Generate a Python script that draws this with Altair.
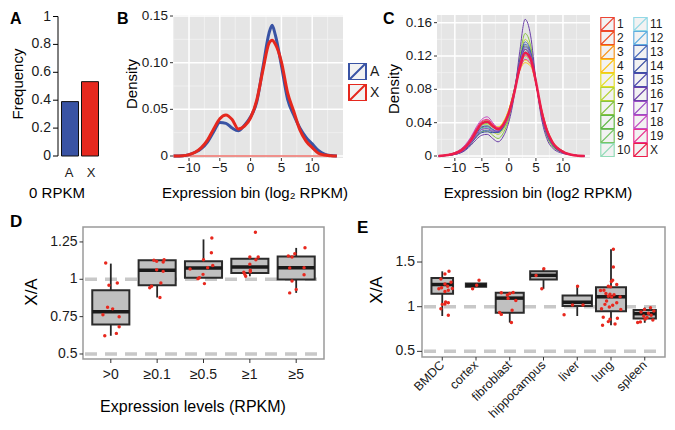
import altair as alt
import pandas as pd

FONT = 'Liberation Sans'
TXT = '#1a1a1a'
TICK = '#333333'
KEY = 'M-1,-1H1V1H-1Z M-1,1L1,-1'
O = 8  # page margin: chart origin sits at page (8, 8)

# ---------------- Panel A ----------------
a_groups = ['A', 'X']
a_frequency = [0.39, 0.533]
a_colors = ['#3953A4', '#E5281E']
a_yticks = [0, 0.2, 0.4, 0.6, 0.8, 1]

# ---------------- Panel B ----------------
b_x = [-12.5, -11, -10, -9, -8, -7, -6, -5, -4, -3, -2, -1, 0, 1, 2, 3, 3.5, 4,
       5, 6, 7, 8, 9, 10, 11, 12, 13, 14]
b_density_A = [0, 0.0003, 0.0015, 0.004, 0.008, 0.015, 0.026, 0.036, 0.035, 0.030,
               0.027, 0.033, 0.042, 0.058, 0.095, 0.132, 0.140, 0.130, 0.097, 0.061,
               0.044, 0.030, 0.020, 0.013, 0.006, 0.002, 0.0005, 0]
b_density_X = [0, 0.0003, 0.0015, 0.004, 0.009, 0.017, 0.029, 0.040, 0.044, 0.039,
               0.029, 0.032, 0.041, 0.060, 0.092, 0.121, 0.124, 0.120, 0.101, 0.068,
               0.048, 0.028, 0.016, 0.009, 0.003, 0.001, 0.0003, 0]
b_xticks = [-10, -5, 0, 5, 10]
b_yticks = [0, 0.05, 0.10, 0.15]
b_minor_x = [-12.5, -7.5, -2.5, 2.5, 7.5, 12.5]
b_minor_y = [0.025, 0.075, 0.125]

# ---------------- Panel C ----------------
c_x = [-13, -10, -8, -7, -6, -5, -4, -3, -2, -1, 0, 1, 2, 3, 4, 5, 6, 7, 8, 10, 12, 14]
c_chroms = ['1', '2', '3', '4', '5', '6', '7', '8', '9', '10',
            '11', '12', '13', '14', '15', '16', '17', '18', '19', 'X']
c_colors = ['#EC4534', '#EF4F23', '#F7941D', '#FBC318', '#E3DF2A', '#B5D334', '#86C240',
            '#62B746', '#78C466', '#93DBB8', '#93D9E6', '#5FAEDF', '#4A6BBA', '#3B4FA3',
            '#4D4AAD', '#6B3FA8', '#9B4DC5', '#C350C2', '#E8338F', '#EC1C4B']
c_density = {
    '1':  [0, 0.003, 0.011, 0.019, 0.030, 0.038, 0.040, 0.035, 0.031, 0.037, 0.052, 0.077, 0.107, 0.125, 0.117, 0.088, 0.054, 0.030, 0.016, 0.005, 0.001, 0],
    '2':  [0, 0.004, 0.013, 0.022, 0.033, 0.041, 0.043, 0.037, 0.031, 0.035, 0.049, 0.075, 0.108, 0.128, 0.119, 0.087, 0.052, 0.028, 0.015, 0.005, 0.001, 0],
    '3':  [0, 0.003, 0.011, 0.019, 0.029, 0.036, 0.037, 0.034, 0.033, 0.040, 0.055, 0.079, 0.105, 0.120, 0.114, 0.088, 0.056, 0.033, 0.018, 0.006, 0.001, 0],
    '4':  [0, 0.004, 0.013, 0.021, 0.031, 0.039, 0.041, 0.037, 0.035, 0.041, 0.056, 0.079, 0.102, 0.112, 0.108, 0.087, 0.058, 0.034, 0.019, 0.006, 0.001, 0],
    '5':  [0, 0.003, 0.012, 0.020, 0.030, 0.037, 0.038, 0.035, 0.034, 0.041, 0.056, 0.080, 0.104, 0.115, 0.110, 0.088, 0.057, 0.033, 0.018, 0.006, 0.001, 0],
    '6':  [0, 0.002, 0.009, 0.016, 0.025, 0.032, 0.033, 0.029, 0.026, 0.032, 0.047, 0.076, 0.114, 0.140, 0.128, 0.090, 0.051, 0.026, 0.013, 0.004, 0.001, 0],
    '7':  [0, 0.002, 0.008, 0.015, 0.023, 0.029, 0.030, 0.025, 0.021, 0.028, 0.045, 0.075, 0.118, 0.147, 0.133, 0.090, 0.049, 0.024, 0.012, 0.004, 0.001, 0],
    '8':  [0, 0.003, 0.010, 0.017, 0.027, 0.034, 0.035, 0.031, 0.028, 0.034, 0.049, 0.076, 0.111, 0.132, 0.122, 0.089, 0.053, 0.028, 0.015, 0.005, 0.001, 0],
    '9':  [0, 0.003, 0.011, 0.019, 0.029, 0.037, 0.039, 0.035, 0.032, 0.038, 0.053, 0.078, 0.106, 0.122, 0.115, 0.088, 0.055, 0.031, 0.017, 0.005, 0.001, 0],
    '10': [0, 0.004, 0.013, 0.021, 0.032, 0.040, 0.042, 0.037, 0.033, 0.039, 0.053, 0.077, 0.104, 0.118, 0.113, 0.088, 0.056, 0.032, 0.018, 0.006, 0.001, 0],
    '11': [0, 0.003, 0.011, 0.018, 0.028, 0.036, 0.037, 0.033, 0.031, 0.037, 0.052, 0.078, 0.108, 0.126, 0.118, 0.088, 0.054, 0.030, 0.016, 0.005, 0.001, 0],
    '12': [0, 0.003, 0.010, 0.017, 0.026, 0.033, 0.034, 0.031, 0.030, 0.036, 0.051, 0.078, 0.110, 0.130, 0.121, 0.088, 0.052, 0.028, 0.015, 0.005, 0.001, 0],
    '13': [0, 0.002, 0.009, 0.016, 0.024, 0.030, 0.031, 0.029, 0.028, 0.035, 0.050, 0.077, 0.113, 0.137, 0.126, 0.089, 0.051, 0.026, 0.014, 0.004, 0.001, 0],
    '14': [0, 0.002, 0.008, 0.015, 0.023, 0.028, 0.029, 0.028, 0.029, 0.037, 0.053, 0.080, 0.114, 0.134, 0.124, 0.089, 0.052, 0.027, 0.014, 0.004, 0.001, 0],
    '15': [0, 0.003, 0.010, 0.018, 0.027, 0.035, 0.036, 0.032, 0.029, 0.035, 0.050, 0.077, 0.109, 0.128, 0.119, 0.088, 0.053, 0.029, 0.015, 0.005, 0.001, 0],
    '16': [0, 0.002, 0.007, 0.013, 0.020, 0.025, 0.026, 0.021, 0.017, 0.024, 0.041, 0.073, 0.125, 0.164, 0.145, 0.091, 0.046, 0.021, 0.010, 0.003, 0.001, 0],
    '17': [0, 0.002, 0.009, 0.016, 0.025, 0.032, 0.033, 0.030, 0.030, 0.037, 0.052, 0.078, 0.111, 0.131, 0.122, 0.088, 0.052, 0.028, 0.015, 0.005, 0.001, 0],
    '18': [0, 0.004, 0.014, 0.023, 0.035, 0.044, 0.047, 0.040, 0.033, 0.036, 0.049, 0.074, 0.104, 0.121, 0.114, 0.087, 0.055, 0.031, 0.017, 0.005, 0.001, 0],
    '19': [0, 0.004, 0.013, 0.022, 0.033, 0.042, 0.044, 0.039, 0.034, 0.039, 0.053, 0.077, 0.103, 0.116, 0.111, 0.087, 0.057, 0.033, 0.018, 0.006, 0.001, 0],
    'X':  [0, 0.003, 0.011, 0.019, 0.030, 0.039, 0.041, 0.036, 0.032, 0.038, 0.052, 0.076, 0.106, 0.124, 0.117, 0.089, 0.055, 0.031, 0.017, 0.005, 0.001, 0],
}
c_xticks = [-10, -5, 0, 5, 10]
c_yticks = [0, 0.04, 0.08, 0.12, 0.16]
c_minor_x = [-12.5, -7.5, -2.5, 2.5, 7.5, 12.5]
c_minor_y = [0.02, 0.06, 0.10, 0.14]

# ---------------- Panel D ----------------
d_levels = ['>0', '≥0.1', '≥0.5', '≥1', '≥5']
d_lower = [0.622, 0.878, 1.011, 1.02, 0.909]
d_q1 = [0.698, 0.96, 1.011, 1.042, 0.998]
d_median = [0.782, 1.06, 1.075, 1.082, 1.078]
d_q3 = [0.927, 1.127, 1.12, 1.138, 1.153]
d_upper = [1.105, 1.127, 1.267, 1.14, 1.21]
d_yticks = [0.5, 0.75, 1, 1.25]
d_point_values = [
    [1.109, 0.96, 0.975, 0.813, 0.802, 0.762, 0.749, 0.682, 0.638, 0.622],
    [1.127, 1.12, 1.116, 1.131, 1.064, 1.053, 0.975, 0.953, 0.944, 0.878],
    [1.276, 1.178, 1.131, 1.093, 1.078, 1.069, 1.033, 1.004, 1.011, 0.971],
    [1.315, 1.149, 1.149, 1.131, 1.1, 1.06, 1.047, 1.033, 1.02, 1.051],
    [1.211, 1.156, 1.149, 1.171, 1.076, 1.078, 1.031, 0.989, 0.931, 0.909],
]
d_point_jitter = [
    [-0.11, -0.04, 0.14, -0.07, 0.04, -0.17, 0.18, 0.18, 0.12, -0.13],
    [-0.07, -0.01, 0.13, 0.15, -0.01, 0.13, 0.08, -0.12, -0.16, 0.06],
    [0.18, 0.17, 0.0, 0.2, 0.09, -0.29, -0.01, -0.12, -0.09, 0.02],
    [0.12, 0.0, 0.18, 0.13, 0.0, 0.01, -0.13, -0.11, -0.09, 0.01],
    [0.19, -0.17, -0.09, -0.03, -0.14, 0.17, 0.17, -0.09, 0.0, -0.14],
]

# ---------------- Panel E ----------------
e_tissues = ['BMDC', 'cortex', 'fibroblast', 'hippocampus', 'liver', 'lung', 'spleen']
e_lower = [0.896, 1.222, 0.822, 1.2, 0.896, 0.792, 0.82]
e_q1 = [1.144, 1.222, 0.933, 1.304, 1.007, 0.948, 0.867]
e_median = [1.248, 1.24, 1.096, 1.351, 1.05, 1.111, 0.922]
e_q3 = [1.322, 1.259, 1.155, 1.396, 1.126, 1.218, 0.962]
e_upper = [1.396, 1.259, 1.155, 1.426, 1.237, 1.644, 0.99]
e_box_width = [0.64, 0.6, 0.83, 0.79, 0.87, 0.89, 0.66]
e_yticks = [0.5, 1, 1.5]
e_point_values = [
    [1.396, 1.367, 1.311, 1.273, 1.255, 1.229, 1.211, 1.204, 1.2, 1.185, 1.17, 1.052, 1.044, 1.026, 1.03, 0.978, 0.905],
    [1.296, 1.24, 1.2],
    [1.155, 1.148, 1.16, 1.13, 1.093, 1.07, 0.96, 0.936, 0.914, 0.822],
    [1.426, 1.35, 1.2],
    [1.229, 1.018, 1.018, 0.911],
    [1.644, 1.444, 1.296, 1.281, 1.229, 1.222, 1.185, 1.181, 1.248, 1.148, 1.14, 1.133, 1.118, 1.11,
     1.11, 1.063, 1.044, 1.026, 1.015, 0.996, 0.978, 0.97, 0.881, 0.859, 0.87, 0.833, 0.792, 0.807],
    [0.989, 0.97, 0.952, 0.941, 0.926, 0.904, 0.896, 0.878, 0.852, 0.859, 0.83, 0.822],
]
e_point_jitter = [
    [0.2, 0.08, -0.04, 0.26, 0.08, 0.16, -0.02, 0.3, -0.1, 0.18, 0.08, 0.1, 0.18, 0.0, 0.08, -0.04, 0.18],
    [0.09, 0.02, -0.1],
    [-0.25, 0.0, 0.1, -0.07, -0.05, 0.18, 0.07, -0.3, -0.25, 0.05],
    [0.01, -0.22, -0.05],
    [0.01, -0.14, 0.17, -0.39],
    [0.07, 0.07, 0.05, 0.01, -0.08, -0.01, -0.21, -0.31, 0.17, -0.15, -0.03, 0.09, -0.08, 0.02,
     0.27, -0.13, 0.17, -0.18, 0.05, -0.05, -0.28, 0.29, -0.23, -0.03, 0.19, -0.08, -0.25, 0.12],
    [0.17, -0.01, 0.27, -0.11, 0.11, 0.19, -0.03, 0.07, 0.24, 0.01, -0.13, -0.21],
]

ref_lines = [0.5, 1.0]

for k, v in c_density.items():
    assert len(v) == len(c_x), k

# ---------------- panel boxes (page pixels) & data limits ----------------
BOX_A = dict(xl=58, xr=102, yb=156, yt=16.5)
BOX_B = dict(xl=173, xr=343, yb=158, yt=15)
BOX_C = dict(xl=437, xr=590, yb=158, yt=15)
BOX_D = dict(xl=83, xr=324, yb=359, yt=227)
BOX_E = dict(xl=422, xr=665, yb=357, yt=227)
LIM_A_Y = [0, 1]
LIM_B_X, LIM_B_Y = [-12.6, 15], [-0.00214, 0.1511]
LIM_C_X, LIM_C_Y = [-13.3, 15], [-0.0024, 0.1692]
LIM_D_X, LIM_D_Y = [0.4, len(d_levels) + 0.6], [0.4665, 1.35]
LIM_E_X, LIM_E_Y = [0.4, len(e_tissues) + 0.6], [0.437, 1.892]


# ---------------- helpers ----------------
def V(p):
    return alt.value(p - O)


def XS(lim, box):
    return alt.Scale(domain=lim, range=[box['xl'] - O, box['xr'] - O], nice=False, zero=False)


def YS(lim, box):
    return alt.Scale(domain=lim, range=[box['yb'] - O, box['yt'] - O], nice=False, zero=False)


def xq(field, lim, box):
    return alt.X(field + ':Q', scale=XS(lim, box), axis=None)


def yq(field, lim, box):
    return alt.Y(field + ':Q', scale=YS(lim, box), axis=None)


def txt(s, x, y, size=15, angle=0, bold=False, align='center', baseline='middle'):
    return alt.Chart(pd.DataFrame({'t': [s]})).mark_text(
        font=FONT, fontSize=size, angle=angle, fontWeight='bold' if bold else 'normal',
        align=align, baseline=baseline, color='black'
    ).encode(text='t:N', x=V(x), y=V(y))


def fmt(v):
    s = ('%g' % v)
    return s.replace('-', '\u2212')


def fmt2(v):
    return '0' if v == 0 else '%.2f' % v


def y_ticks(vals, labels, lim, box, tlen, pad, size, color=TICK):
    df = pd.DataFrame({'v': vals, 'l': labels})
    ticks = alt.Chart(df).mark_rule(color=color, strokeWidth=1).encode(
        y=yq('v', lim, box), x=V(box['xl'] - tlen), x2=V(box['xl']))
    labs = alt.Chart(df).mark_text(align='right', baseline='middle', font=FONT, fontSize=size,
                                   color=TXT).encode(
        y=yq('v', lim, box), x=V(box['xl'] - tlen - pad), text='l:N')
    return [ticks, labs]


def x_ticks(vals, labels, lim, box, tlen, label_y, size, angle=0, align='center', color=TICK):
    df = pd.DataFrame({'v': vals, 'l': labels})
    ticks = alt.Chart(df).mark_rule(color=color, strokeWidth=1).encode(
        x=xq('v', lim, box), y=V(box['yb']), y2=V(box['yb'] + tlen))
    labs = alt.Chart(df).mark_text(align=align, baseline='middle', font=FONT, fontSize=size,
                                   angle=angle, color=TXT).encode(
        x=xq('v', lim, box), y=V(label_y), text='l:N')
    return [ticks, labs]


def grid(xvals, yvals, xlim, ylim, box, color, width):
    out = []
    if xvals:
        out.append(alt.Chart(pd.DataFrame({'v': xvals})).mark_rule(color=color, strokeWidth=width).encode(
            x=xq('v', xlim, box), y=V(box['yt']), y2=V(box['yb'])))
    if yvals:
        out.append(alt.Chart(pd.DataFrame({'v': yvals})).mark_rule(color=color, strokeWidth=width).encode(
            y=yq('v', ylim, box), x=V(box['xl']), x2=V(box['xr'])))
    return out


def panel_rect(box, fill, stroke=None):
    kw = dict(fill=fill)
    if stroke:
        kw.update(stroke=stroke, strokeWidth=1.5)
    return alt.Chart(pd.DataFrame({'k': [0]})).mark_rect(**kw).encode(
        x=V(box['xl']), x2=V(box['xr']), y=V(box['yt']), y2=V(box['yb']))


layers = []

# ---------------- Panel A ----------------
a_df = pd.DataFrame({'g': a_groups, 'f': a_frequency})
a_xscale = alt.Scale(domain=a_groups, range=[BOX_A['xl'] - O, BOX_A['xr'] - O],
                     paddingInner=0.15, paddingOuter=0.175)
layers.append(alt.Chart(a_df).mark_bar(stroke='#111111', strokeWidth=1).encode(
    x=alt.X('g:N', scale=a_xscale, axis=None),
    y=yq('f', LIM_A_Y, BOX_A),
    color=alt.Color('g:N', scale=alt.Scale(domain=a_groups, range=a_colors), legend=None)))
layers.append(alt.Chart(pd.DataFrame({'k': [0]})).mark_rule(color='black', strokeWidth=1).encode(
    x=V(BOX_A['xl']), y=V(BOX_A['yt']), y2=V(BOX_A['yb'])))
layers += y_ticks(a_yticks, [fmt(v) for v in a_yticks], LIM_A_Y, BOX_A, 5, 2, 14, color='black')
layers.append(alt.Chart(a_df).mark_text(font=FONT, fontSize=13, color=TXT, baseline='middle').encode(
    x=alt.X('g:N', scale=a_xscale, axis=None), y=V(173), text='g:N'))
layers += [txt('A', 10, 24, 16, bold=True, align='left', baseline='alphabetic'),
           txt('Frequency', 18, 84, 15, angle=270),
           txt('0 RPKM', 57, 193, 15)]

# ---------------- Panel B ----------------
b_df = pd.DataFrame({'x': b_x + b_x, 'd': b_density_A + b_density_X,
                     'g': ['A'] * len(b_x) + ['X'] * len(b_x)})
layers.append(panel_rect(BOX_B, '#e5e5e5'))
layers += grid(b_minor_x, b_minor_y, LIM_B_X, LIM_B_Y, BOX_B, '#f2f2f2', 0.8)
layers += grid(b_xticks, b_yticks, LIM_B_X, LIM_B_Y, BOX_B, 'white', 1.5)
layers.append(alt.Chart(pd.DataFrame({'x0': [min(b_x)], 'x1': [max(b_x)], 'y0': [0.0]})).mark_rule(
    color=a_colors[1], strokeWidth=1.2).encode(
    x=xq('x0', LIM_B_X, BOX_B), x2='x1:Q', y=yq('y0', LIM_B_Y, BOX_B)))
layers.append(alt.Chart(b_df).mark_line(strokeWidth=3, interpolate='monotone').encode(
    x=xq('x', LIM_B_X, BOX_B), y=yq('d', LIM_B_Y, BOX_B),
    color=alt.Color('g:N', scale=alt.Scale(domain=a_groups, range=a_colors),
                    legend=alt.Legend(title=None, orient='none', legendX=348 - O, legendY=63 - O,
                                      symbolType=KEY, symbolSize=289, symbolStrokeWidth=2,
                                      symbolFillColor='#f2f2f2', labelFontSize=14, labelFont=FONT,
                                      labelColor=TXT, rowPadding=4, clipHeight=17, labelOffset=3,
                                      padding=0))))
layers += x_ticks(b_xticks, [fmt(v) for v in b_xticks], LIM_B_X, BOX_B, 3, 168, 13.5)
layers += y_ticks(b_yticks, [fmt2(v) for v in b_yticks], LIM_B_Y, BOX_B, 3, 2, 13.5)
layers += [txt('B', 117, 24, 16, bold=True, align='left', baseline='alphabetic'),
           txt('Density', 132, 84, 15, angle=270),
           txt('Expression bin (log\u2082 RPKM)', 255, 193, 15)]

# ---------------- Panel C ----------------
c_rows = []
for chrom in c_chroms:
    for xv, dv in zip(c_x, c_density[chrom]):
        c_rows.append({'x': xv, 'd': dv, 'chr': chrom})
c_df = pd.DataFrame(c_rows)
layers.append(panel_rect(BOX_C, '#e5e5e5'))
layers += grid(c_minor_x, c_minor_y, LIM_C_X, LIM_C_Y, BOX_C, '#f2f2f2', 0.8)
layers += grid(c_xticks, c_yticks, LIM_C_X, LIM_C_Y, BOX_C, 'white', 1.5)
c_scale = alt.Scale(domain=c_chroms, range=c_colors)
layers.append(alt.Chart(c_df[c_df['chr'] != 'X']).mark_line(strokeWidth=1, interpolate='monotone').encode(
    x=xq('x', LIM_C_X, BOX_C), y=yq('d', LIM_C_Y, BOX_C),
    color=alt.Color('chr:N', scale=c_scale,
                    legend=alt.Legend(title=None, orient='none', legendX=600 - O, legendY=17 - O,
                                      columns=2, columnPadding=2, rowPadding=0, clipHeight=14,
                                      symbolType=KEY, symbolSize=180, symbolStrokeWidth=1.2,
                                      symbolFillColor='#f2f2f2', labelFontSize=12, labelFont=FONT,
                                      labelColor=TXT, labelOffset=2, padding=0))))
layers.append(alt.Chart(c_df[c_df['chr'] == 'X']).mark_line(strokeWidth=2.5, interpolate='monotone').encode(
    x=xq('x', LIM_C_X, BOX_C), y=yq('d', LIM_C_Y, BOX_C),
    color=alt.Color('chr:N', scale=c_scale, legend=None)))
layers += x_ticks(c_xticks, [fmt(v) for v in c_xticks], LIM_C_X, BOX_C, 3, 168, 13.5)
layers += y_ticks(c_yticks, [fmt2(v) for v in c_yticks], LIM_C_Y, BOX_C, 3, 2, 13.5)
layers += [txt('C', 383, 24, 16, bold=True, align='left', baseline='alphabetic'),
           txt('Density', 394, 89, 15, angle=270),
           txt('Expression bin (log2 RPKM)', 538, 193, 15)]


# ---------------- box panels ----------------
def box_layers(cats, lower, q1, med, q3, upper, widths, pvals, pjit, xlim, ylim, box):
    pos = list(range(1, len(cats) + 1))
    bx = pd.DataFrame({'pos': pos, 'lo': lower, 'q1': q1, 'med': med, 'q3': q3, 'hi': upper,
                       'left': [p - w / 2 for p, w in zip(pos, widths)],
                       'right': [p + w / 2 for p, w in zip(pos, widths)]})
    rows = []
    for p, vals, jits in zip(pos, pvals, pjit):
        for v, j in zip(vals, jits):
            rows.append({'px': p + j, 'val': v})
    pts = pd.DataFrame(rows)
    out = [panel_rect(box, 'white', '#9a9a9a')]
    out.append(alt.Chart(pd.DataFrame({'v': ref_lines})).mark_rule(
        color='#c8c8c8', strokeWidth=3.5, strokeDash=[12, 8]).encode(
        y=yq('v', ylim, box), x=V(box['xl'] + 2), x2=V(box['xr'] - 2)))
    out.append(alt.Chart(bx).mark_rule(color='#262626', strokeWidth=1.8).encode(
        x=xq('pos', xlim, box), y=yq('lo', ylim, box), y2='hi:Q'))
    out.append(alt.Chart(bx).mark_bar(fill='#c0c0c0', stroke='#2b2b2b', strokeWidth=2).encode(
        x=xq('left', xlim, box), x2='right:Q', y=yq('q1', ylim, box), y2='q3:Q'))
    out.append(alt.Chart(bx).mark_rule(color='#1a1a1a', strokeWidth=3.5).encode(
        x=xq('left', xlim, box), x2='right:Q', y=yq('med', ylim, box)))
    out.append(alt.Chart(pts).mark_circle(color='#E8281E', size=12, opacity=1).encode(
        x=xq('px', xlim, box), y=yq('val', ylim, box)))
    return out, pos


d_l, d_pos = box_layers(d_levels, d_lower, d_q1, d_median, d_q3, d_upper, [0.8] * len(d_levels),
                        d_point_values, d_point_jitter, LIM_D_X, LIM_D_Y, BOX_D)
layers += d_l
layers += y_ticks(d_yticks, [fmt(v) for v in d_yticks], LIM_D_Y, BOX_D, 3.5, 2, 14)
layers += x_ticks(d_pos, d_levels, LIM_D_X, BOX_D, 4, 375, 14)
layers += [txt('D', 10, 227, 17, bold=True, align='left', baseline='alphabetic'),
           txt('X/A', 32, 292, 17, angle=270),
           txt('Expression levels (RPKM)', 193, 407, 16)]

e_l, e_pos = box_layers(e_tissues, e_lower, e_q1, e_median, e_q3, e_upper, e_box_width,
                        e_point_values, e_point_jitter, LIM_E_X, LIM_E_Y, BOX_E)
layers += e_l
layers += y_ticks(e_yticks, [fmt(v) for v in e_yticks], LIM_E_Y, BOX_E, 5, 2, 14)
layers += x_ticks(e_pos, e_tissues, LIM_E_X, BOX_E, 3.5, 363, 12.5, angle=315, align='right')
layers += [txt('E', 357, 233, 17, bold=True, align='left', baseline='alphabetic'),
           txt('X/A', 377, 290, 17, angle=270)]

chart = alt.layer(*layers).resolve_scale(
    x='independent', y='independent', color='independent'
).properties(
    width=659, height=414, padding=0, autosize=alt.AutoSizeParams(type='none')
).configure_view(stroke=None)

chart.save("out.html", embed_options={"renderer": "svg", "actions": False})
